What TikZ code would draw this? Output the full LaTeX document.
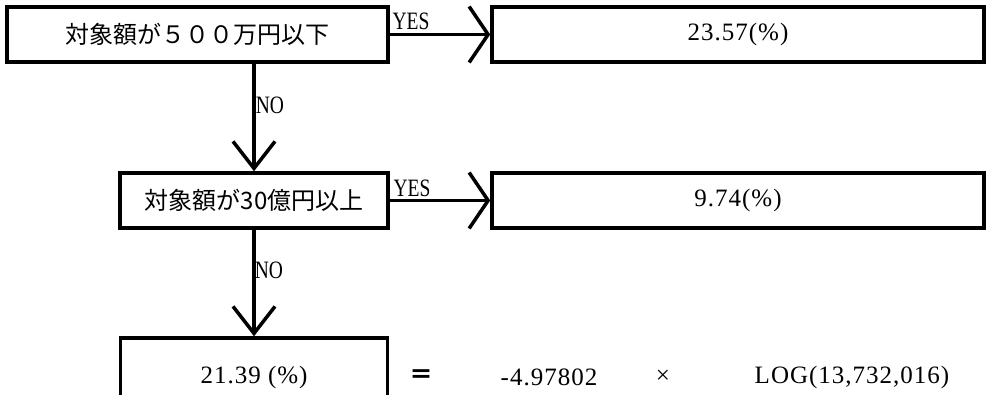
\documentclass[tikz,border=0pt]{standalone}
\usepackage{fontspec}
\usepackage{tikz}
\usetikzlibrary{arrows.meta,positioning}
\newfontfamily\jpfont{Noto Sans CJK JP}
\newfontfamily\numfont[LetterSpace=4]{Liberation Serif}
\newfontfamily\latfont[FakeStretch=0.78]{Liberation Serif}

\begin{document}
\begin{tikzpicture}[x=1pt, y=-1pt, line width=3.5pt,
    box/.style={draw, inner sep=0pt, minimum height=55pt},
    jptext/.style={font=\jpfont\fontsize{24}{28}\selectfont},
    numtext/.style={font=\numfont\fontsize{25}{28}\selectfont, inner sep=0pt},
    lbl/.style={font=\latfont\fontsize{25}{28}\selectfont, inner sep=0pt},
    yesarrow/.style={-{Straight Barb[length=19pt,width=56pt]}},
    noarrow/.style={-{Straight Barb[length=27pt,width=42pt]}}]
    \useasboundingbox (0,0) rectangle (986,394);
    \clip (0,0) rectangle (986,394);

    % Conditions
    \node[box, jptext, minimum width=381pt] (q1) at (197.5,34.5) {対象額が５００万円以下};
    \node[box, jptext, minimum width=268pt] (q2) at (254,200.5) {対象額が30億円以上};

    % Results
    \node[box, numtext, minimum width=492pt] (r1) at (738,34.5) {23.57(\%)};
    \node[box, numtext, minimum width=492pt] (r2) at (738,200.5) {9.74(\%)};
    \node[box, numtext, minimum width=267pt, minimum height=78pt] (r3) at (254,377) {21.39 (\%)};

    % Formula
    \node[font=\jpfont\bfseries\fontsize{24}{28}\selectfont, inner sep=0pt] (eq) at (421,377) {＝};
    \node[numtext] (coef) at (549,377) {-4.97802};
    \node[numtext] (times) at (663,377) {×};
    \node[numtext] (logv) at (852,377) {LOG(13,732,016)};

    % YES branches
    \draw[yesarrow] (q1) -- (r1);
    \draw[yesarrow] (q2) -- (r2);
    \node[lbl] (yes1) at (411,21) {YES};
    \node[lbl] (yes2) at (412,188) {YES};

    % NO branches
    \draw[noarrow] (q1.south -| q2.north) -- (q2.north);
    \draw[noarrow] (q2) -- (r3);
    \node[lbl] (no1) at (270,105) {NO};
    \node[lbl] (no2) at (269,270) {NO};
\end{tikzpicture}
\end{document}
